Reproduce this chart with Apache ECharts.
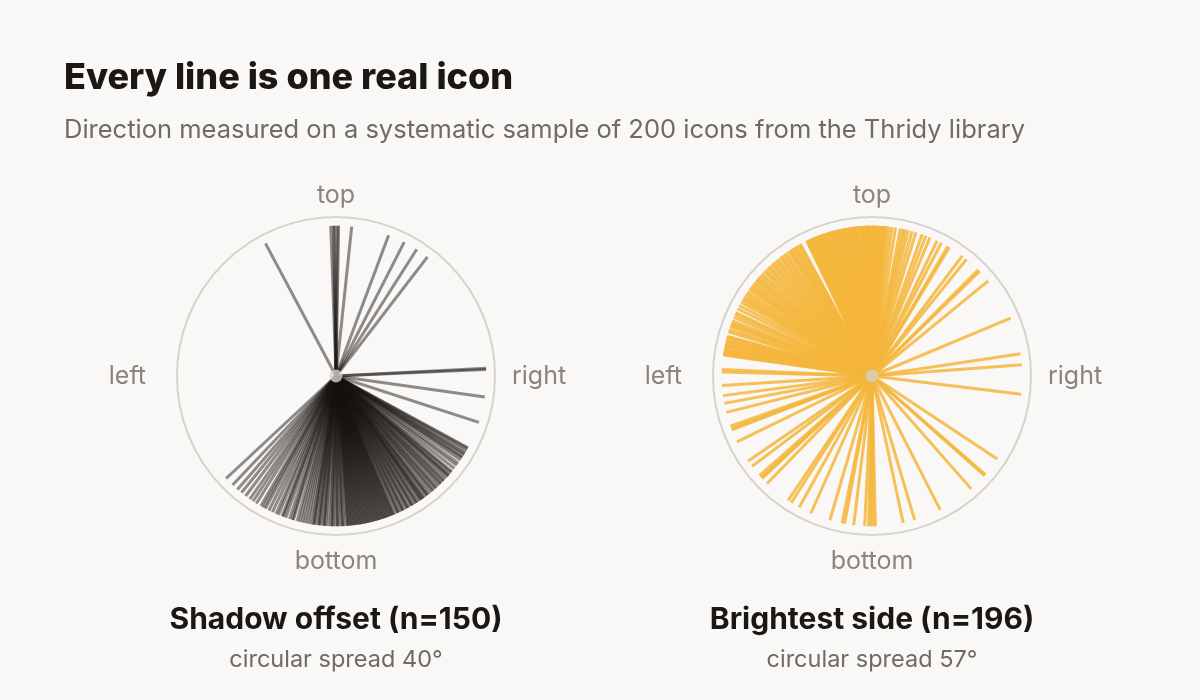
<!DOCTYPE html>
<html><head><meta charset="utf-8">
<script src="https://cdn.jsdelivr.net/npm/echarts@6/dist/echarts.min.js"></script>
<style>html,body{margin:0;padding:0;background:#f9f8f6}#c{width:1200px;height:700px}</style>
</head><body><div id="c"></div>
<script>
// ---- data ----
const directionLabels = ['top', 'right', 'bottom', 'left'];
const panelTitles = ['Shadow offset (n=150)', 'Brightest side (n=196)'];
const panelSpreads = ['circular spread 40°', 'circular spread 57°'];

// Shadow offset directions, degrees clockwise from top (one per icon)
const shadowAngles = [
  332, 358, 359, 359.5, 0.5, 1, 6, 20.5, 27, 32.5, 37.5,
  87, 87.5, 98, 108,
  118.5, 119, 120, 121, 121.5, 122.5, 123, 124, 125.5, 126.5, 128, 129.5,
  130, 131, 131.5, 132, 133, 134, 134.5, 135.5, 136, 137, 138, 138.5, 139.5, 140, 141, 142, 142.5, 143, 144, 144.5,
  145, 145.5, 146, 147, 147.5, 148, 149, 149.5, 150, 151, 151.5, 152, 153, 153.5, 154, 155, 155.5, 156, 157, 157.5, 158, 158.5, 159, 159.5, 160,
  160.5, 161, 161.5, 162, 162.5, 163, 163.5, 164, 164.5, 165, 165.5, 166, 166.5, 167, 167.5, 168, 168.5, 169, 169.5, 170, 170.5, 171, 171.5, 172, 172.5, 173, 173.5, 174, 174.5, 175,
  175.5, 176, 177, 177.5, 178, 179, 179.5, 180, 181, 181.5, 182, 183, 184, 184.5, 185, 186, 186.5, 187, 188, 188.5, 189, 190,
  191, 192, 193, 194, 195, 196.5, 197, 198, 199.5, 200.5, 201, 202.5, 203.5, 205,
  206.5, 208, 209, 210, 212, 213.5, 215, 217, 219, 221, 223.5, 227
];

// Brightest side directions, degrees clockwise from top (one per icon)
const brightAngles = [
  67.3, 81.5, 85.7, 97,
  123.5, 131, 131.5, 138.7, 153, 163.5, 168,
  178.7, 179.6, 180.5, 181.3, 182.8, 187, 190.5, 191.5, 196.3,
  204, 209, 212.5, 214, 224.3, 227, 227.5, 228.5, 233, 235.5, 244, 249, 249.5, 250.5, 256, 259.5, 262.5, 266.4, 271.5, 272.5,
  5.5, 6.5, 7.6, 9, 10.9, 12, 12.9, 14, 15.5, 17, 19.5, 21, 22.7, 25.7, 27.5, 30.3, 31, 36.9, 39, 45, 45.8, 50.7,
  278, 278.4, 279.1, 279.6, 280.2, 281, 281.7, 282.1, 283, 283.6, 284.2, 285, 285.4, 287.1, 288, 289.2, 290, 290.6, 291.5, 293, 294.1, 295, 296.6, 298, 299.4,
  300.5, 301.2, 302, 303.1, 304, 305.2, 306, 306.6, 307.5, 308.4, 309.5, 310.2, 311, 312.1, 313, 314.2, 315, 316.1, 317, 318.2, 319, 320.1, 321, 322.2, 323, 324.1, 325, 326.2, 327, 327.6, 328.5, 329.2, 330, 331, 331.5,
  340.5, 334.9, 337.5, 334.2, 334.6, 335.1, 335.8, 336.2, 336.7, 337.1,
  337.9, 338.3, 338.6, 339.4, 339.9, 340.2, 340.8, 341.3, 341.7, 342.4,
  342.8, 343.1, 343.9, 344.3, 344.6, 345.2, 345.9, 346.1, 346.7, 347.3,
  347.6, 348.4, 348.8, 349.2, 349.7, 350.3, 350.9, 351.2, 351.6, 352.4,
  352.7, 353.3, 353.8, 354.1, 354.6, 355.4, 355.8, 356.2, 356.9, 357.2,
  357.7, 358.3, 358.6, 359.1, 359.8, 0.3, 0.7, 1.2, 1.6, 2.1,
  2.4, 2.9, 3.3, 3.6, 4.1, 4.4, 4.8, 5.1, 344.9, 349.5,
  353.1, 357.4, 0.9, 338.9
];

// ---- chart ----
const FONT = 'Inter, "Noto Sans", sans-serif';
const LINE_R = 0.945;
const centers = [[336, 376], [872, 376]];
const chart = echarts.init(document.getElementById('c'), null, { renderer: 'canvas' });

function lineSeries(angles, idx, color) {
  return {
    type: 'custom', coordinateSystem: 'polar', polarIndex: idx, silent: true,
    data: angles.map(a => [LINE_R, a]),
    renderItem(params, api) {
      const p0 = api.coord([0, api.value(1)]);
      const p1 = api.coord([api.value(0), api.value(1)]);
      return { type: 'line', shape: { x1: p0[0], y1: p0[1], x2: p1[0], y2: p1[1] },
        style: { stroke: color, lineWidth: 3, lineCap: 'butt' } };
    }
  };
}

const labelStyle = { color: '#8b847b', fontSize: 25, fontFamily: FONT };
function angleAxis(i) {
  return {
    polarIndex: i, type: 'value', min: 0, max: 360, interval: 90, startAngle: 90, clockwise: true,
    axisLine: { lineStyle: { color: '#d7d3cc', width: 2 } },
    axisTick: { show: false }, splitLine: { show: false },
    axisLabel: {
      margin: 9, ...labelStyle,
      formatter: v => { const k = Math.round(v / 90); return k >= 4 ? '' : '{d' + k + '|' + directionLabels[k] + '}'; },
      rich: {
        d0: { ...labelStyle, padding: [0, 0, 0, 0] },
        d1: { ...labelStyle, padding: [0, 0, 0, 8] },
        d2: { ...labelStyle, padding: [5, 0, 0, 0] },
        d3: { ...labelStyle, padding: [0, 22, 0, 0] }
      }
    }
  };
}

const titles = [
  { text: 'Every line is one real icon', left: 64, top: 60, padding: 0,
    textStyle: { fontFamily: FONT, fontSize: 36, fontWeight: 800, color: '#1a1714' } },
  { text: 'Direction measured on a systematic sample of 200 icons from the Thridy library', left: 64, top: 117, padding: 0,
    textStyle: { fontFamily: FONT, fontSize: 25.5, fontWeight: 400, color: '#6f6a64' } }
];
centers.forEach((c, i) => {
  titles.push({ text: panelTitles[i], left: c[0], top: 605, padding: 0, textAlign: 'center',
    textStyle: { fontFamily: FONT, fontSize: 30, fontWeight: 700, color: '#1a1714' } });
  titles.push({ text: panelSpreads[i], left: c[0], top: 648, padding: 0, textAlign: 'center',
    textStyle: { fontFamily: FONT, fontSize: 23.5, fontWeight: 400, color: '#6f6a64' } });
});

chart.setOption({
  backgroundColor: '#f9f8f6',
  animation: false,
  title: titles,
  polar: centers.map(c => ({ center: c, radius: 159 })),
  angleAxis: [angleAxis(0), angleAxis(1)],
  radiusAxis: [0, 1].map(i => ({ polarIndex: i, type: 'value', min: 0, max: 1, show: false })),
  series: [
    lineSeries(shadowAngles, 0, 'rgba(22,19,16,0.48)'),
    lineSeries(brightAngles, 1, 'rgba(244,182,60,0.85)'),
    { type: 'scatter', coordinateSystem: 'polar', polarIndex: 0, data: [[0, 0]], symbolSize: 13, silent: true, z: 5,
      itemStyle: { color: '#d5d1c9' } },
    { type: 'scatter', coordinateSystem: 'polar', polarIndex: 1, data: [[0, 0]], symbolSize: 13, silent: true, z: 5,
      itemStyle: { color: '#d5d1c9' } }
  ]
});
</script></body></html>
